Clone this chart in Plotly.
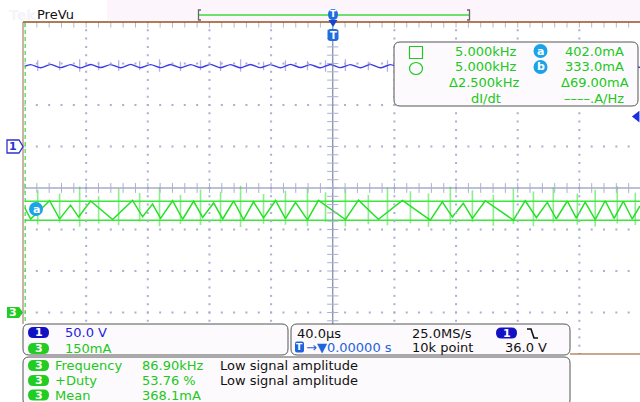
import numpy as np
import plotly.graph_objects as go

W, H = 640, 402

# ---- acquisition settings -------------------------------------------------
TIME_SCALE_US = 40.0      # µs / div
CH1_SCALE_V = 50.0        # V / div
CH3_SCALE_MA = 150.0      # mA / div
CH1_POS_DIV = 1.0         # channel 1 ground, divisions above centre
CH3_POS_DIV = -3.0        # channel 3 zero, divisions above centre
TRIG_LEVEL_V = 36.0

# ---- channel 3 (current) waveform vertices --------------------------------
CH3_T_US = [-200.0, -196.0, -183.7, -177.2, -170.1, -164.9, -157.1, -142.8, -129.9, -123.4,
            -116.9, -111.7, -103.9, -97.4, -90.3, -84.4, -77.3, -71.4, -64.3, -57.9,
            -51.4, -44.9, -37.1, -30.7, -24.2, -16.4, -9.3, 8.2, 16.7, 29.6,
            45.2, 63.3, 71.1, 77.6, 84.7, 90.6, 99.0, 117.2, 124.9, 132.1,
            139.2, 145.0, 152.2, 158.0, 163.8, 170.3, 176.8, 182.6, 188.5, 194.3, 199.4]
CH3_MA = [380, 338, 404, 338, 388, 345, 403, 336, 405, 346,
          392, 340, 404, 337, 402, 344, 396, 338, 403, 336,
          400, 342, 405, 339, 398, 335, 405, 336, 406, 337,
          405, 334, 400, 345, 395, 340, 404, 334, 404, 343,
          398, 338, 403, 341, 399, 336, 404, 340, 402, 338, 385]

# switching spikes seen on both channels
SPIKE_T_US = [-191.4, -177.2, -164.2, -151.9, -138.9, -125.3, -112.4, -98.8, -85.8, -72.8,
              -59.8, -44.9, -30.7, -16.4, -4.7, 8.2, 23.1, 35.5, 50.4, 62.1,
              76.3, 90.6, 104.2, 117.2, 130.2, 143.1, 158.7, 170.3, 184.6, 196.3]
CH3_SPIKE_TOP_MA = [443, 430, 455, 420, 447, 432, 452, 425, 445, 436,
                    458, 428, 440, 450, 435, 446, 425, 452, 438, 430,
                    455, 442, 426, 448, 437, 452, 430, 444, 456, 433]
CH3_SPIKE_BOT_MA = [318, 325, 310, 322, 315, 328, 312, 320, 316, 324,
                    309, 321, 317, 313, 326, 311, 319, 315, 323, 310,
                    318, 327, 314, 320, 312, 325, 317, 311, 322, 316]

# ---- channel 1 (voltage) waveform -----------------------------------------
CH1_T_US = [-200.0, -196.0, -189.5, -183.0, -176.5, -170.0, -163.5, -157.1, -150.6, -144.1,
            -137.6, -131.1, -124.7, -118.2, -111.7, -105.2, -98.7, -92.2, -85.8, -79.3,
            -72.8, -66.3, -59.8, -53.4, -46.9, -40.4, -33.9, -27.4, -20.9, -14.5,
            -8.0, -1.5, 5.0, 11.5, 18.0, 24.4, 30.9, 37.4, 43.9, 50.4,
            56.9, 63.3, 69.8, 76.3, 82.8, 89.3, 95.8, 102.2, 108.7, 115.2,
            121.7, 128.2, 134.7, 141.1, 147.6, 154.1, 160.6, 167.1, 173.5, 180.0,
            186.5, 193.0, 199.4]
CH1_V = [96.6, 98.7, 94.9, 98.9, 95.0, 98.6, 94.7, 98.8, 95.1, 98.7,
         94.8, 98.9, 94.9, 98.6, 95.0, 98.8, 94.8, 98.7, 95.1, 98.9,
         94.9, 98.6, 94.8, 98.8, 95.0, 98.7, 94.9, 98.9, 95.1, 98.6,
         94.8, 98.8, 95.0, 98.7, 94.9, 98.9, 94.8, 98.6, 95.1, 98.8,
         94.9, 98.7, 95.0, 98.9, 94.8, 98.6, 95.0, 98.8, 94.9, 98.7,
         95.1, 98.9, 94.8, 98.6, 95.0, 98.8, 94.9, 98.7, 95.0, 98.9,
         94.8, 98.7, 95.0]
CH1_SPIKE_TOP_V = [104, 103, 105, 102, 104, 103, 105, 102, 104, 103,
                   105, 102, 104, 103, 104, 105, 102, 104, 103, 105,
                   102, 104, 103, 105, 102, 104, 103, 105, 102, 104]
CH1_SPIKE_BOT_V = [91, 92, 90, 92, 91, 92, 90, 91, 92, 91,
                   90, 92, 91, 92, 90, 91, 92, 90, 91, 92,
                   91, 90, 92, 91, 90, 92, 91, 90, 92, 91]

# ---- readouts -------------------------------------------------------------
CURSOR_A_MA = 402.0
CURSOR_B_MA = 333.0
CURSOR_A_KHZ = 5.000
CURSOR_B_KHZ = 5.000
CURSOR_DF_KHZ = 2.500
MEAS_NAMES = ["Frequency", "+Duty", "Mean"]
MEAS_VALUES = ["86.90kHz", "53.76 %", "368.1mA"]
MEAS_NOTES = ["Low signal amplitude", "Low signal amplitude", ""]
SAMPLE_RATE = "25.0MS/s"
RECORD_LEN = "10k point"

# ---- colours / fonts ------------------------------------------------------
FONT = "DejaVu Sans"
GREEN_TRACE = "#27e027"
GREEN_SPIKE = "rgba(120,235,120,0.85)"
GREEN_TXT = "#20c820"
GREEN_PILL = "#22cc22"
BLUE_TRACE = "#3c3ce0"
BLUE_SPIKE = "rgba(150,150,240,0.75)"
BLUE_TXT = "#1e1ee0"
BLUE_PILL = "#1212c4"
T_BLUE = "#1f6ee0"
CYAN = "#1aa3e8"
GRID = "#aab0d2"
CENTER = "#7a86aa"
BOX_EDGE = "#555555"
BOX_FILL = "#fdfafd"

# ---- screen geometry (pixels) ---------------------------------------------
LEFT_PX, TOP_PX, BOT_PX = 24.5, 22.0, 354.0
DIV_PX = 61.65
N_VDIV = 8
X_MIN = -5 * TIME_SCALE_US
X_MAX = X_MIN + (W - LEFT_PX) / DIV_PX * TIME_SCALE_US


def px(x):
    return x / W


def py(y):
    return 1 - y / H


def rrect(x0, y0, x1, y1, r):
    rx, ry = r / W, r / H
    X0, X1, Y0, Y1 = px(x0), px(x1), py(y0), py(y1)
    return (f"M {X0+rx},{Y0} L {X1-rx},{Y0} Q {X1},{Y0} {X1},{Y0-ry} "
            f"L {X1},{Y1+ry} Q {X1},{Y1} {X1-rx},{Y1} L {X0+rx},{Y1} "
            f"Q {X0},{Y1} {X0},{Y1+ry} L {X0},{Y0-ry} Q {X0},{Y0} {X0+rx},{Y0} Z")


fig = go.Figure()
shapes, annos = [], []


def text(x, y, s, color="#111111", size=13, anchor="left", bold=False, ref=("paper", "paper")):
    annos.append(dict(x=x, y=y, xref=ref[0], yref=ref[1], text=f"<b>{s}</b>" if bold else s,
                      showarrow=False, xanchor=anchor, yanchor="middle",
                      font=dict(family=FONT, size=size, color=color)))


def pill(x0, y0, x1, y1, fill, label, size=11):
    shapes.append(dict(type="path", path=rrect(x0, y0, x1, y1, (y1 - y0) / 2),
                       xref="paper", yref="paper", fillcolor=fill, line=dict(width=0), layer="above"))
    text(px((x0 + x1) / 2), py((y0 + y1) / 2), label, "white", size, "center", True)


# ---- graticule ------------------------------------------------------------
gx, gy = [], []
for k in range(-4, 5):
    if k == 0:
        continue
    t = k * TIME_SCALE_US
    for j in np.arange(-N_VDIV / 2, N_VDIV / 2 + 0.01, 0.2):
        gx.append(t); gy.append(j)
for r in range(-3, 4):
    if r == 0:
        continue
    for t in np.arange(X_MIN, X_MAX, TIME_SCALE_US / 5):
        gx.append(t); gy.append(r)
fig.add_trace(go.Scatter(x=gx, y=gy, yaxis="y3", mode="markers", hoverinfo="skip",
                         marker=dict(symbol="square", size=2, color=GRID, line=dict(width=0))))

# centre cross lines and their minor ticks
fig.add_trace(go.Scatter(x=[X_MIN, X_MAX, None, 0, 0], y=[0, 0, None, -4, 4], yaxis="y3",
                         mode="lines", line=dict(color=CENTER, width=1.2), hoverinfo="skip"))
tx = list(np.arange(X_MIN, X_MAX, TIME_SCALE_US / 5))
fig.add_trace(go.Scatter(x=tx, y=[0] * len(tx), yaxis="y3", mode="markers", hoverinfo="skip",
                         marker=dict(symbol="line-ns", size=7, line=dict(color=GRID, width=1))))
fig.add_trace(go.Scatter(x=tx, y=[4] * len(tx), yaxis="y3", mode="markers", hoverinfo="skip",
                         marker=dict(symbol="line-ns", size=8, line=dict(color="#b8b8c8", width=1))))
ty = list(np.arange(-4, 4.01, 0.2))
fig.add_trace(go.Scatter(x=[0] * len(ty), y=ty, yaxis="y3", mode="markers", hoverinfo="skip",
                         marker=dict(symbol="line-ew", size=8, line=dict(color=GRID, width=1))))


def spikes(ts, tops, bots):
    xs, ys = [], []
    for t, a, b in zip(ts, tops, bots):
        xs += [t, t, None]; ys += [a, b, None]
    return xs, ys


# ---- channel 1 -------------------------------------------------------------
sx, sy = spikes(SPIKE_T_US, CH1_SPIKE_TOP_V, CH1_SPIKE_BOT_V)
fig.add_trace(go.Scatter(x=sx, y=sy, yaxis="y2", mode="lines",
                         line=dict(color=BLUE_SPIKE, width=1.3), hoverinfo="skip"))
fig.add_trace(go.Scatter(x=CH1_T_US, y=CH1_V, yaxis="y2", mode="lines",
                         line=dict(color=BLUE_TRACE, width=1.4, shape="spline", smoothing=0.7)))

# ---- channel 3 -------------------------------------------------------------
sx, sy = spikes(SPIKE_T_US, CH3_SPIKE_TOP_MA, CH3_SPIKE_BOT_MA)
fig.add_trace(go.Scatter(x=sx, y=sy, yaxis="y", mode="lines",
                         line=dict(color=GREEN_SPIKE, width=1.6), hoverinfo="skip"))
for c in (CURSOR_A_MA, CURSOR_B_MA):
    fig.add_trace(go.Scatter(x=[X_MIN, X_MAX], y=[c, c], yaxis="y", mode="lines",
                             line=dict(color="#3ae83a", width=1.5), hoverinfo="skip"))
fig.add_trace(go.Scatter(x=CH3_T_US, y=CH3_MA, yaxis="y", mode="lines",
                         line=dict(color=GREEN_TRACE, width=1.5)))

# trigger level marker on the right edge
fig.add_trace(go.Scatter(x=[X_MAX - 2.0], y=[TRIG_LEVEL_V], yaxis="y2", mode="markers",
                         cliponaxis=False, hoverinfo="skip",
                         marker=dict(symbol="triangle-left", size=10, color="#1a30e0")))

# ---- frame ------------------------------------------------------------------
shapes.append(dict(type="rect", xref="paper", yref="paper", x0=px(107), x1=1, y0=py(21), y1=1,
                   fillcolor="#fcf6fc", line=dict(width=0), layer="below"))
shapes.append(dict(type="line", xref="paper", yref="paper", x0=px(23), x1=1, y0=py(22), y1=py(22),
                   line=dict(color="#93521f", width=1.5), layer="above"))
shapes.append(dict(type="line", xref="paper", yref="paper", x0=px(23), x1=px(23), y0=py(22), y1=py(324),
                   line=dict(color="#a88070", width=1.2), layer="above"))
shapes.append(dict(type="line", xref="x", yref="paper", x0=X_MIN + 0.3, x1=X_MIN + 0.3,
                   y0=py(23), y1=py(324), line=dict(color="#2ad82a", width=1.5, dash="4px,3px"),
                   layer="above"))
shapes.append(dict(type="line", xref="paper", yref="paper", x0=px(570), x1=1, y0=py(354), y1=py(354),
                   line=dict(color="#93521f", width=1.2), layer="above"))

# top bar
text(px(7), py(15), "Tek", "#f4f4f9", 14, bold=True)
text(px(35), py(15), "PreVu", "#111111", 13)
shapes.append(dict(type="line", xref="paper", yref="paper", x0=px(199), x1=px(469), y0=py(15), y1=py(15),
                   line=dict(color="#6ee06e", width=2), layer="above"))
for xb, d in ((198.5, 2.5), (469.5, -2.5)):
    shapes.append(dict(type="path", xref="paper", yref="paper",
                       path=f"M {px(xb+d)},{py(10)} L {px(xb)},{py(10)} L {px(xb)},{py(20)} L {px(xb+d)},{py(20)}",
                       line=dict(color="#666666", width=1.3), layer="above"))
pill(328, 9, 338, 20, T_BLUE, "T", 9)
shapes.append(dict(type="path", xref="paper", yref="paper",
                   path=f"M {px(328.5)},{py(20)} L {px(337.5)},{py(20)} L {px(333)},{py(27)} Z",
                   fillcolor="#1848c8", line=dict(width=0), layer="above"))
shapes.append(dict(type="path", xref="paper", yref="paper",
                   path=rrect(327.5, 29, 338.5, 41, 3), fillcolor=T_BLUE, line=dict(width=0), layer="above"))
text(px(333), py(35), "T", "white", 10, "center", True)

# channel ground markers
h1 = 6.5 / (BOT_PX - TOP_PX) * N_VDIV * CH1_SCALE_V
shapes.append(dict(type="path", xref="paper", yref="y2",
                   path=f"M {px(7)},{h1} L {px(19)},{h1} L {px(23)},0 L {px(19)},{-h1} L {px(7)},{-h1} Z",
                   fillcolor="white", line=dict(color="#3030d0", width=1.3), layer="above"))
text(px(13), 0, "1", "#3030d0", 11, "center", True, ("paper", "y2"))
h3 = 5.5 / (BOT_PX - TOP_PX) * N_VDIV * CH3_SCALE_MA
shapes.append(dict(type="path", xref="paper", yref="y",
                   path=f"M {px(7)},{h3} L {px(19)},{h3} L {px(23)},0 L {px(19)},{-h3} L {px(7)},{-h3} Z",
                   fillcolor=GREEN_PILL, line=dict(width=0), layer="above"))
text(px(13), 0, "3", "white", 11, "center", True, ("paper", "y"))

# waveform label
shapes.append(dict(type="circle", xref="paper", yref="paper", x0=px(29), x1=px(43), y0=py(202), y1=py(216),
                   fillcolor=CYAN, line=dict(width=0), layer="above"))
text(px(36), py(209), "a", "white", 11, "center", True)

# ---- cursor readout ---------------------------------------------------------
shapes.append(dict(type="path", xref="paper", yref="paper", path=rrect(394, 42, 638, 106, 6),
                   fillcolor=BOX_FILL, line=dict(color=BOX_EDGE, width=1), layer="above"))
shapes.append(dict(type="rect", xref="paper", yref="paper", x0=px(409.5), x1=px(422.5), y0=py(46.5), y1=py(58.5),
                   line=dict(color=GREEN_TXT, width=1.2), layer="above"))
shapes.append(dict(type="circle", xref="paper", yref="paper", x0=px(409.5), x1=px(422.5), y0=py(62.5), y1=py(74.5),
                   line=dict(color=GREEN_TXT, width=1.2), layer="above"))
for yc, lab in ((51, "a"), (67, "b")):
    shapes.append(dict(type="circle", xref="paper", yref="paper", x0=px(533.5), x1=px(547.5),
                       y0=py(yc - 7), y1=py(yc + 7), fillcolor=CYAN, line=dict(width=0), layer="above"))
    text(px(540.5), py(yc), lab, "white", 11, "center", True)
text(px(486), py(51), f"{CURSOR_A_KHZ:.3f}kHz", GREEN_TXT, 13, "center")
text(px(594), py(51), f"{CURSOR_A_MA:.1f}mA", GREEN_TXT, 13, "center")
text(px(486), py(67), f"{CURSOR_B_KHZ:.3f}kHz", GREEN_TXT, 13, "center")
text(px(594), py(67), f"{CURSOR_B_MA:.1f}mA", GREEN_TXT, 13, "center")
text(px(484), py(82.5), f"Δ{CURSOR_DF_KHZ:.3f}kHz", GREEN_TXT, 13, "center")
text(px(595), py(82.5), f"Δ{CURSOR_A_MA - CURSOR_B_MA:.2f}mA", GREEN_TXT, 13, "center")
text(px(486), py(98), "dI/dt", GREEN_TXT, 13, "center")
text(px(594), py(98), "––––.A/Hz", GREEN_TXT, 13, "center")

# ---- bottom readouts --------------------------------------------------------
for x0, y0, x1, y1 in ((23, 324, 288, 355), (291, 324, 570, 355), (23, 357, 570, 406)):
    shapes.append(dict(type="path", xref="paper", yref="paper", path=rrect(x0, y0, x1, y1, 6),
                       fillcolor=BOX_FILL, line=dict(color=BOX_EDGE, width=1), layer="above"))

pill(28, 327, 49, 338, BLUE_PILL, "1")
text(px(63), py(332.5), f"{CH1_SCALE_V:.1f} V", BLUE_TXT, 13)
pill(28, 343, 49, 354, GREEN_PILL, "3")
text(px(63), py(348.5), f"{CH3_SCALE_MA:.0f}mA", GREEN_TXT, 13)

text(px(295), py(333), f"{TIME_SCALE_US:.1f}µs", "#111111", 13)
text(px(410), py(333), SAMPLE_RATE, "#111111", 13)
pill(496, 327.5, 517, 338.5, BLUE_PILL, "1")
shapes.append(dict(type="path", xref="paper", yref="paper",
                   path=f"M {px(527)},{py(329)} L {px(531)},{py(329)} L {px(534)},{py(338)} L {px(538)},{py(338)}",
                   line=dict(color="#111111", width=1.6), layer="above"))
shapes.append(dict(type="path", xref="paper", yref="paper", path=rrect(295, 341.5, 304, 352.5, 2),
                   fillcolor="#1e64dc", line=dict(width=0), layer="above"))
text(px(299.5), py(347), "T", "white", 9, "center", True)
text(px(304), py(347.5), "→▼0.00000 s", "#1e64dc", 13)
text(px(410), py(347.5), RECORD_LEN, "#111111", 13)
text(px(503), py(347.5), f"{TRIG_LEVEL_V:.1f} V", "#111111", 13)

for i, (name, val, note) in enumerate(zip(MEAS_NAMES, MEAS_VALUES, MEAS_NOTES)):
    yc = [365.5, 380.5, 395.0][i]
    pill(28, yc - 5.5, 49, yc + 5.5, GREEN_PILL, "3")
    text(px(53), py(yc), name, GREEN_TXT, 13)
    text(px(140), py(yc), val, GREEN_TXT, 13)
    if note:
        text(px(218), py(yc), note, "#111111", 13)

# ---- layout -----------------------------------------------------------------
ydom = [py(BOT_PX), py(TOP_PX)]
fig.update_layout(
    width=W, height=H, margin=dict(l=0, r=0, t=0, b=0),
    paper_bgcolor="white", plot_bgcolor="white", showlegend=False,
    xaxis=dict(domain=[px(LEFT_PX), 1], range=[X_MIN, X_MAX], visible=False, fixedrange=True),
    yaxis=dict(domain=ydom, visible=False,
               range=[(-N_VDIV / 2 - CH3_POS_DIV) * CH3_SCALE_MA, (N_VDIV / 2 - CH3_POS_DIV) * CH3_SCALE_MA]),
    yaxis2=dict(overlaying="y", visible=False,
                range=[(-N_VDIV / 2 - CH1_POS_DIV) * CH1_SCALE_V, (N_VDIV / 2 - CH1_POS_DIV) * CH1_SCALE_V]),
    yaxis3=dict(overlaying="y", visible=False, range=[-N_VDIV / 2, N_VDIV / 2]),
    shapes=shapes, annotations=annos,
)

fig.write_html("out.html")
